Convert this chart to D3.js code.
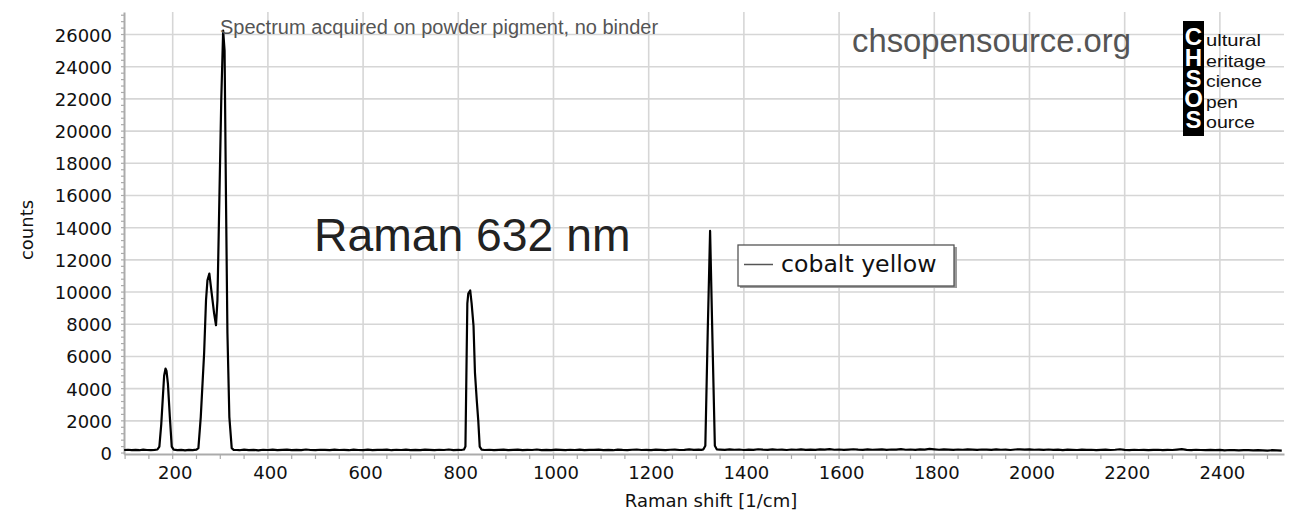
<!DOCTYPE html>
<html><head><meta charset="utf-8">
<script src="https://cdn.jsdelivr.net/npm/d3@7"></script>
<style>body{margin:0;background:#fff;overflow:hidden}</style>
</head><body>
<svg id="c" width="1293" height="524"></svg>
<script>
// ---- data ----
const xTickValues = [200,400,600,800,1000,1200,1400,1600,1800,2000,2200,2400];
const yTickValues = [0,2000,4000,6000,8000,10000,12000,14000,16000,18000,20000,22000,24000,26000];
const seriesName = "cobalt yellow";
const chartTitle = "Raman 632 nm";
const noteText = "Spectrum acquired on powder pigment, no binder";
const siteText = "chsopensource.org";
const logoLetters = ["C","H","S","O","S"];
const logoWords = ["ultural","eritage","cience","pen","ource"];
// [Raman shift (1/cm), counts]
const cobaltYellow = [
 [98,190],[106,205],[114,180],[122,200],[130,175],[138,210],[146,190],[154,185],[162,200],
 [168,220],[172,400],[176,1800],[179,3300],[182,4800],[185,5250],[187,5100],[190,4300],[194,2250],[198,400],[202,210],
 [210,180],[218,195],[226,170],[234,200],[242,185],[250,210],
 [254,300],[259,2250],[266,6180],[270,9490],[273,10730],[277,11150],[282,9900],[287,8680],[291,7940],[294,9490],
 [298,15700],[302,21900],[306,26240],[309,25000],[312,15700],[315,7440],[319,2250],[324,300],[328,200],
 [335,190],[340,175],[350,215],[360,185],[370,200],[380,170],[390,205],[400,190],[410,215],[420,180],[430,195],
 [440,210],[450,175],[460,200],[470,185],[480,220],[490,190],[500,175],[510,205],[520,195],[530,180],[540,210],
 [550,190],[560,200],[570,175],[580,215],[590,190],[600,185],[610,210],[620,180],[630,200],[640,195],[650,215],
 [660,175],[670,205],[680,190],[690,210],[700,185],[710,200],[720,180],[730,215],[740,195],[750,175],[760,205],
 [770,190],[780,220],[790,185],[800,200],[806,190],
 [812,220],[815,400],[819,9300],[821,9900],[825,10100],[828,9300],[832,7900],[835,5000],[839,3200],[842,2000],[845,400],[849,210],
 [855,190],[865,205],[875,180],[885,200],[895,215],[905,185],[915,195],[925,210],[935,175],[945,200],[955,190],
 [965,220],[975,185],[985,200],[995,175],[1005,210],[1015,195],[1025,185],[1035,205],[1045,190],[1055,215],
 [1065,180],[1075,200],[1085,195],[1095,210],[1105,185],[1115,200],[1125,175],[1135,215],[1145,195],[1155,185],
 [1165,205],[1175,220],[1185,190],[1195,200],[1205,180],[1215,210],[1225,195],[1235,185],[1245,205],[1255,215],
 [1265,190],[1275,200],[1285,225],[1295,195],[1305,210],[1311,200],
 [1315,230],[1319,450],[1324,7500],[1329,13800],[1334,7000],[1339,450],[1343,230],
 [1350,215],[1360,195],[1370,230],[1380,205],[1390,220],[1400,190],[1410,215],[1420,200],[1430,235],[1440,210],
 [1450,195],[1460,225],[1470,205],[1480,215],[1490,190],[1500,220],[1510,205],[1520,230],[1530,200],[1540,215],
 [1550,195],[1560,225],[1570,210],[1580,240],[1590,205],[1600,220],[1610,200],[1620,215],[1630,235],[1640,210],
 [1650,195],[1660,225],[1670,205],[1680,215],[1690,230],[1700,200],[1710,220],[1720,210],[1730,240],[1740,205],
 [1750,220],[1760,195],[1770,225],[1780,215],[1790,260],[1800,230],[1810,205],[1820,225],[1830,210],[1840,195],
 [1850,220],[1860,205],[1870,230],[1880,215],[1890,200],[1900,220],[1910,210],[1920,195],[1930,225],[1940,205],
 [1950,215],[1960,190],[1970,220],[1980,230],[1990,210],[2000,225],[2010,205],[2020,215],[2030,195],[2040,220],
 [2050,200],[2060,210],[2070,185],[2080,215],[2090,200],[2100,190],[2110,215],[2120,195],[2130,205],[2140,180],
 [2150,200],[2160,210],[2170,190],[2180,205],[2190,235],[2200,200],[2210,185],[2220,205],[2230,190],[2240,200],
 [2250,180],[2260,195],[2270,205],[2280,185],[2290,200],[2300,190],[2310,215],[2320,240],[2330,200],[2340,185],
 [2350,205],[2360,190],[2370,175],[2380,200],[2390,185],[2400,195],[2410,170],[2420,190],[2430,180],[2440,165],
 [2450,185],[2460,175],[2470,160],[2480,180],[2490,170],[2500,155],[2510,175],[2520,165],[2530,150]
];

// ---- layout ----
const L = 124, R = 1284, T = 12, B = 454;
const svg = d3.select("#c");
const x = d3.scaleLinear().domain([97.7, 2534.7]).range([L, R]);
const y = d3.scaleLinear().domain([-60, 27400]).range([B, T]);

const gridColor = "#d6d6d6", axisColor = "#ababab";

// grid
const grid = svg.append("g");
grid.selectAll("line.v").data(xTickValues).join("line")
  .attr("x1", d => x(d)).attr("x2", d => x(d)).attr("y1", T).attr("y2", B)
  .attr("stroke", gridColor).attr("stroke-width", 1.6);
grid.selectAll("line.h").data(yTickValues.filter(d => d > 0)).join("line")
  .attr("x1", L).attr("x2", R).attr("y1", d => y(d)).attr("y2", d => y(d))
  .attr("stroke", gridColor).attr("stroke-width", 1.6);

// axes
const xAxis = d3.axisBottom(x).tickValues(xTickValues).tickSize(0).tickPadding(12).tickFormat(d3.format("d"));
const yAxis = d3.axisLeft(y).tickValues(yTickValues).tickSize(0).tickPadding(12).tickFormat(d3.format("d"));
const gx = svg.append("g").attr("transform", `translate(0,${B})`).call(xAxis);
const gy = svg.append("g").attr("transform", `translate(${L},0)`).call(yAxis);
[gx, gy].forEach(g => {
  g.select(".domain").attr("stroke", axisColor).attr("stroke-width", 2);
  g.selectAll("text").attr("font-family", "DejaVu Sans, Verdana, sans-serif").attr("font-size", 18).attr("fill", "#111");
});
gy.selectAll(".tick text").attr("dy", "0.36em");
gx.selectAll(".tick text").attr("dy", "0.71em").attr("dx", 2);
// minor ticks
const xMinor = d3.range(100, 2534, 50);
svg.append("g").selectAll("line").data(xMinor).join("line")
  .attr("x1", d => x(d)).attr("x2", d => x(d)).attr("y1", B).attr("y2", B + 5)
  .attr("stroke", axisColor).attr("stroke-width", 1.2);
const yMinor = d3.range(0, 27400, 400);
svg.append("g").selectAll("line").data(yMinor).join("line")
  .attr("x1", L - 3).attr("x2", L).attr("y1", d => y(d)).attr("y2", d => y(d))
  .attr("stroke", axisColor).attr("stroke-width", 1.2);

// axis titles
svg.append("text").attr("x", 711).attr("y", 506.5).attr("text-anchor", "middle")
  .attr("font-family", "DejaVu Sans, Verdana, sans-serif").attr("font-size", 18).attr("fill", "#111")
  .text("Raman shift [1/cm]");
svg.append("text").attr("transform", "translate(33,230) rotate(-90)").attr("text-anchor", "middle")
  .attr("font-family", "DejaVu Sans, Verdana, sans-serif").attr("font-size", 18).attr("fill", "#111")
  .text("counts");

// spectrum
const line = d3.line().x(d => x(d[0])).y(d => y(d[1]));
svg.append("path").datum(cobaltYellow).attr("d", line)
  .attr("fill", "none").attr("stroke", "#000").attr("stroke-width", 2.2).attr("stroke-linejoin", "round");

// annotations
svg.append("text").attr("x", 220).attr("y", 34).attr("font-family", "Liberation Sans, Arial, sans-serif")
  .attr("font-size", 20).attr("fill", "#555").text(noteText);
svg.append("text").attr("x", 314).attr("y", 251).attr("font-family", "Liberation Sans, Arial, sans-serif")
  .attr("font-size", 46.3).attr("fill", "#222").text(chartTitle);
svg.append("text").attr("x", 852).attr("y", 52).attr("font-family", "Liberation Sans, Arial, sans-serif")
  .attr("font-size", 32.8).attr("fill", "#555").text(siteText);

// legend
const lg = svg.append("g");
lg.append("rect").attr("x", 740).attr("y", 247).attr("width", 217).attr("height", 41).attr("fill", "#9a9a9a");
lg.append("rect").attr("x", 738).attr("y", 245).attr("width", 216).attr("height", 41)
  .attr("fill", "#fff").attr("stroke", "#555").attr("stroke-width", 1.3);
lg.append("line").attr("x1", 744).attr("x2", 773).attr("y1", 264.5).attr("y2", 264.5)
  .attr("stroke", "#555").attr("stroke-width", 1.5);
lg.append("text").attr("x", 781).attr("y", 272).attr("font-family", "DejaVu Sans, Verdana, sans-serif")
  .attr("font-size", 23.6).attr("fill", "#111").text(seriesName);

// logo
const logo = svg.append("g");
logo.append("rect").attr("x", 1183).attr("y", 21).attr("width", 21).attr("height", 115).attr("fill", "#000");
logo.selectAll("text.l").data(logoLetters).join("text")
  .attr("x", 1193.5).attr("y", (d, i) => 45 + i * 20.8).attr("text-anchor", "middle")
  .attr("font-family", "Liberation Sans, Arial, sans-serif").attr("font-weight", "bold")
  .attr("font-size", 24).attr("fill", "#fff").text(d => d);
const wordLens = [55, 60, 56, 32, 49];
logo.selectAll("text.w").data(logoWords).join("text")
  .attr("x", 1206).attr("y", (d, i) => 46 + i * 20.5)
  .attr("font-family", "Liberation Sans, Arial, sans-serif")
  .attr("font-size", 16.5).attr("fill", "#111")
  .attr("textLength", (d, i) => wordLens[i]).attr("lengthAdjust", "spacingAndGlyphs")
  .text(d => d);
</script>
</body></html>
